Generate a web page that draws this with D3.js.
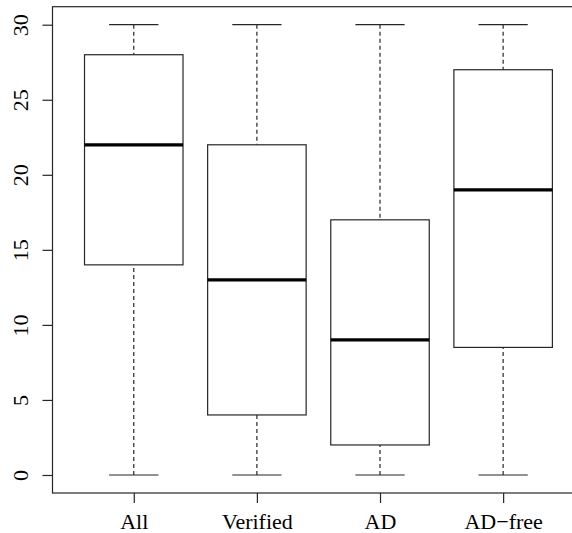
<!DOCTYPE html>
<html>
<head>
<meta charset="utf-8">
<script src="https://cdn.jsdelivr.net/npm/d3@7"></script>
<style>
  body { margin: 0; background: #fff; }
  svg { display: block; font-family: "Liberation Serif", "DejaVu Serif", serif; }
</style>
</head>
<body>
<div id="chart"></div>
<script>
// groups and their five-number summaries
const categories = ['All', 'Verified', 'AD', 'AD\u2212free'];
const minValues = [0, 0, 0, 0];
const q1Values = [14, 4, 2, 8.5];
const medianValues = [22, 13, 9, 19];
const q3Values = [28, 22, 17, 27];
const maxValues = [30, 30, 30, 30];
const yTicks = [0, 5, 10, 15, 20, 25, 30];

const width = 572;
const height = 533;

const boxes = categories.map((c, i) => ({
    name: c,
    pos: i + 1,
    min: minValues[i],
    q1: q1Values[i],
    median: medianValues[i],
    q3: q3Values[i],
    max: maxValues[i]
}));

// R-style extended limits (4% each side)
const xScale = d3.scaleLinear()
    .domain([0.34, 4.66])
    .range([52.5, 584.4]);

const yScale = d3.scaleLinear()
    .domain([-1.2, 31.2])
    .range([493, 6.7]);

const svg = d3.select('#chart')
    .append('svg')
    .attr('width', width)
    .attr('height', height);

const lineColor = '#262626';

// plot frame
svg.append('rect')
    .attr('x', xScale(0.34))
    .attr('y', yScale(31.2))
    .attr('width', xScale(4.66) - xScale(0.34))
    .attr('height', yScale(-1.2) - yScale(31.2))
    .attr('fill', 'none')
    .attr('stroke', lineColor)
    .attr('stroke-width', 1.2);

// y axis
let yAxis = svg.append('g')
    .attr('transform', `translate(${xScale(0.34)},0)`)
    .call(d3.axisLeft(yScale).tickValues(yTicks).tickSize(10).tickSizeOuter(0));
yAxis.select('.domain').remove();
yAxis.selectAll('.tick line').attr('stroke', lineColor).attr('stroke-width', 1.2);
yAxis.selectAll('.tick text')
    .attr('x', null)
    .attr('dy', null)
    .attr('text-anchor', 'middle')
    .attr('transform', 'translate(-24.5,0) rotate(-90)')
    .attr('fill', '#000')
    .attr('font-size', 22)
    .attr('font-family', '"Liberation Serif", serif');

// x axis
let xAxis = svg.append('g')
    .attr('transform', `translate(0,${yScale(-1.2)})`)
    .call(d3.axisBottom(xScale).tickValues(boxes.map(d => d.pos)).tickFormat((d, i) => categories[i]).tickSize(10).tickSizeOuter(0));
xAxis.select('.domain').remove();
xAxis.selectAll('.tick line').attr('stroke', lineColor).attr('stroke-width', 1.2);
xAxis.selectAll('.tick text')
    .attr('y', 36)
    .attr('dy', null)
    .attr('fill', '#000')
    .attr('font-size', 22)
    .attr('font-family', '"Liberation Serif", serif');

let boxGroups = svg.selectAll('.box')
    .data(boxes)
    .join('g')
    .attr('class', 'box');

// whiskers (dashed)
boxGroups.selectAll('.whisker')
    .data(d => [[d.pos, d.max, d.q3], [d.pos, d.min, d.q1]])
    .join('line')
    .attr('class', 'whisker')
    .attr('x1', d => xScale(d[0]))
    .attr('x2', d => xScale(d[0]))
    .attr('y1', d => yScale(d[1]))
    .attr('y2', d => yScale(d[2]))
    .attr('stroke', lineColor)
    .attr('stroke-width', 1.2)
    .attr('stroke-dasharray', '4,3');

// staples
boxGroups.selectAll('.staple')
    .data(d => [[d.pos, d.max], [d.pos, d.min]])
    .join('line')
    .attr('class', 'staple')
    .attr('x1', d => xScale(d[0] - 0.2))
    .attr('x2', d => xScale(d[0] + 0.2))
    .attr('y1', d => yScale(d[1]))
    .attr('y2', d => yScale(d[1]))
    .attr('stroke', lineColor)
    .attr('stroke-width', 1.2);

// boxes
boxGroups.append('rect')
    .attr('x', d => xScale(d.pos - 0.4))
    .attr('y', d => yScale(d.q3))
    .attr('width', d => xScale(d.pos + 0.4) - xScale(d.pos - 0.4))
    .attr('height', d => yScale(d.q1) - yScale(d.q3))
    .attr('fill', '#fff')
    .attr('stroke', lineColor)
    .attr('stroke-width', 1.2);

// medians
boxGroups.append('line')
    .attr('x1', d => xScale(d.pos - 0.4))
    .attr('x2', d => xScale(d.pos + 0.4))
    .attr('y1', d => yScale(d.median))
    .attr('y2', d => yScale(d.median))
    .attr('stroke', '#000')
    .attr('stroke-width', 3.2);
</script>
</body>
</html>
